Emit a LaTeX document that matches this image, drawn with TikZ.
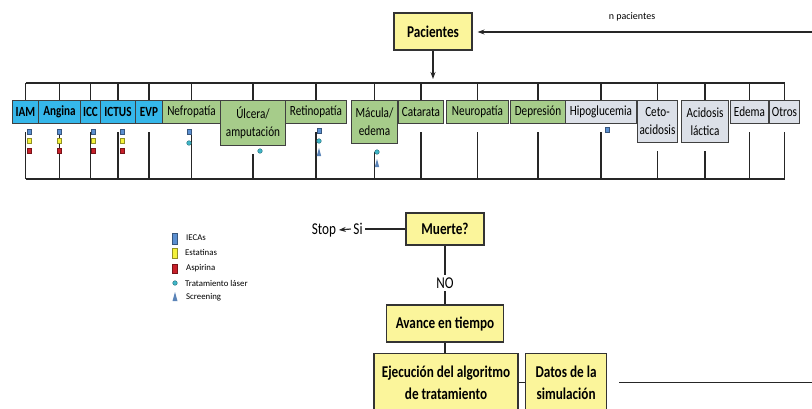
\documentclass[tikz,border=0pt]{standalone}
\usepackage{fontspec}
\setmainfont[FakeStretch=0.8]{Carlito}
\newfontfamily\leyendafont{Carlito}
\usepackage{tikz}
\usetikzlibrary{arrows.meta, positioning}

\definecolor{amarillo}{HTML}{FBF59B}
\definecolor{azulcat}{HTML}{35B7EA}
\definecolor{verdecat}{HTML}{A6CC8A}
\definecolor{griscat}{HTML}{DCE0E8}
\definecolor{iecas}{HTML}{5B8FD0}
\definecolor{estatinas}{HTML}{F4F23A}
\definecolor{aspirina}{HTML}{C8202A}
\definecolor{laser}{HTML}{3FB6C8}
\definecolor{screening}{HTML}{5B84B8}

% marcadores de tratamiento
\newcommand{\cuadro}[3]{\filldraw[fill=#1, draw=#1!60!black, line width=0.4pt] ({#2-2},{#3-2.5}) rectangle ({#2+2},{#3+2.5});}
\newcommand{\circulo}[2]{\filldraw[fill=laser, draw=laser!60!black, line width=0.4pt] (#1,#2) circle (2.3);}
\newcommand{\triangulo}[2]{\fill[screening] ({#1-2.2},{#2+4}) -- ({#1+2.2},{#2+4}) -- ({#1},{#2-4}) -- cycle;}

\begin{document}
\begin{tikzpicture}[x=1pt, y=-1pt,
  caja/.style={draw=black!80, line width=1.1pt, fill=amarillo, font=\fontsize{16.5}{22}\selectfont\bfseries, align=center, inner sep=0pt},
  cat/.style={draw=black!75, line width=1pt, font=\fontsize{14}{18}\selectfont, align=center, inner sep=0pt, anchor=north west, minimum height=23pt},
  cv/.style={cat, fill=azulcat, font=\fontsize{14}{18}\selectfont\bfseries},
  cg/.style={cat, fill=verdecat},
  cs/.style={cat, fill=griscat},
  txt/.style={font=\fontsize{16.5}{20}\selectfont, inner sep=2.5pt},
  bus/.style={line width=1.7pt, black!85},
  palito/.style={line width=1.3pt, black!85},
  linea/.style={line width=1.2pt, black!85},
  flecha/.style={linea, -{Stealth[length=7pt, width=5pt]}},
  ley/.style={font=\leyendafont\fontsize{8.8}{10}\selectfont, anchor=west, inner sep=0pt}
]
\useasboundingbox (0,0) rectangle (812,408);
\clip (0,0) rectangle (812,408);

% Pacientes
\node[caja, minimum width=78, minimum height=37] (pacientes) at (433,31.5) {Pacientes};
\node[font=\leyendafont\fontsize{10}{12}\selectfont] (npac) at (632,17) {n pacientes};
\coordinate (retorno) at (812,32);
\coordinate (bustop) at (0,83);
\coordinate (busbot) at (0,179);
\draw[flecha, shorten >=5pt] (retorno) -- (retorno -| pacientes.east);
\draw[flecha, shorten >=4pt] (pacientes.south) -- (pacientes.south |- bustop);

% categorias
\node[cv, minimum width=26] (iam) at (12,100) {IAM};
\node[cv, minimum width=42] (angina) at (38,100) {Angina};
\node[cv, minimum width=20] (icc) at (80,100) {ICC};
\node[cv, minimum width=35] (ictus) at (100,100) {ICTUS};
\node[cv, minimum width=27] (evp) at (135,100) {EVP};
\node[cg, minimum width=58] (nefro) at (162,100) {Nefropatía};
\node[cg, minimum width=65, minimum height=45] (ulcera) at (220,100) {Úlcera/\\amputación};
\node[cg, minimum width=61] (retino) at (285,100) {Retinopatía};
\node[cg, minimum width=46, minimum height=43] (macula) at (351,100) {Mácula/\\edema};
\node[cg, minimum width=45] (catarata) at (398,100) {Catarata};
\node[cg, minimum width=62] (neuro) at (446,100) {Neuropatía};
\node[cg, minimum width=55] (depre) at (510,100) {Depresión};
\node[cs, minimum width=71] (hipo) at (565,100) {Hipoglucemia};
\node[cs, minimum width=40, minimum height=42] (ceto) at (637,100) {Ceto-\\acidosis};
\node[cs, minimum width=47, minimum height=42] (lactica) at (681,100) {Acidosis\\láctica};
\node[cs, minimum width=38] (edema) at (730,100) {Edema};
\node[cs, minimum width=30] (otros) at (769,100) {Otros};

\draw[bus] (iam.north |- bustop) -- (otros.north |- bustop);
\draw[bus] (iam.south |- busbot) -- (otros.south |- busbot);
\foreach \c in {iam,angina,icc,ictus,evp,nefro,ulcera,retino,macula,catarata,neuro,depre,hipo,ceto,lactica,edema,otros}{
  \draw[palito] (\c.north |- bustop) -- (\c.north);
  \draw[palito] ([yshift=-8pt]\c.south) -- (\c.south |- busbot);
}

% tratamientos
\foreach \x in {29,59,93,122}{
  \cuadro{iecas}{\x}{132}
  \cuadro{estatinas}{\x}{141}
  \cuadro{aspirina}{\x}{151}
}
\cuadro{iecas}{189}{132}
\circulo{189}{143}
\circulo{260}{151}
\cuadro{iecas}{319}{131}
\circulo{319}{141}
\triangulo{319}{152}
\circulo{377}{152}
\triangulo{377}{163}
\cuadro{iecas}{607}{130}

% leyenda
\filldraw[fill=iecas, draw=iecas!60!black, line width=0.4pt] (172,233) rectangle (177,244);
\filldraw[fill=estatinas, draw=estatinas!60!black, line width=0.6pt] (172,248) rectangle (177,258);
\filldraw[fill=aspirina, draw=aspirina!60!black, line width=0.4pt] (172,264) rectangle (177,273);
\circulo{175}{283}
\fill[screening] (172.5,301) -- (177.5,301) -- (175,292) -- cycle;
\node[ley] (lieca) at (186,238) {IECAs};
\node[ley] (lest) at (185,252) {Estatinas};
\node[ley] (lasp) at (186,268) {Aspirina};
\node[ley] (llas) at (185,283) {Tratamiento láser};
\node[ley] (lscr) at (186,297) {Screening};

% bucle de simulacion
\node[caja, minimum width=78, minimum height=32] (muerte) at (445,229) {Muerte?};
\node[txt] (stop) at (324,230) {Stop};
\node[txt] (si) at (358,229) {Si};
\draw[linea] (muerte.west) -- (si.east);
\draw[flecha] (si.west) -- (stop.east);
\node[txt] (no) at (445,283) {NO};
\draw[linea] (muerte.south) -- (no.north);
\node[caja, minimum width=117, minimum height=37] (avance) at (445,323.5) {Avance en tiempo};
\draw[linea] (no.south) -- (avance.north);
\node[caja, minimum width=144, minimum height=58, anchor=north] (ejec) at (446,353) {Ejecución del algoritmo\\de tratamiento};
\draw[linea] (avance.south) -- (avance.south |- ejec.north);
\node[caja, minimum width=81, minimum height=58, anchor=north west] (datos) at (525,353) {Datos de la\\simulación};
\draw[linea] (ejec.east) -- (datos.west);
\coordinate (salida) at (812,382);
\draw[linea] ([xshift=12pt]datos.east) -- (datos.east -| salida);
\end{tikzpicture}
\end{document}
